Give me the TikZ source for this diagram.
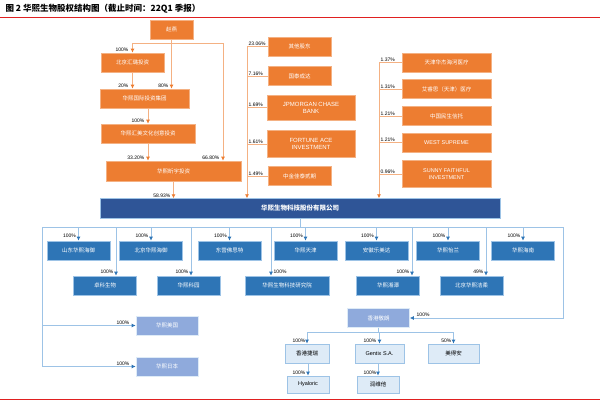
\documentclass[tikz,border=0pt]{standalone}
\usepackage{fontspec}
\setmainfont{Liberation Sans}
\newfontfamily\cjk{Noto Sans CJK SC}
\usetikzlibrary{calc,arrows.meta}
\definecolor{COrange}{HTML}{ED7D31}
\definecolor{COrangeLt}{HTML}{F4B183}
\definecolor{CNavy}{HTML}{2F5597}
\definecolor{CBlue}{HTML}{2E75B6}
\definecolor{CBlueLt}{HTML}{9DC3E6}
\definecolor{CPale}{HTML}{8FAADC}
\definecolor{CIce}{HTML}{DEEBF7}
\definecolor{CRed}{HTML}{E02020}

\tikzset{
  box/.style={inner sep=1pt, align=center, text=white,
    font=\cjk\fontsize{5.5}{6.5}\selectfont},
  obox/.style={box, fill=COrange, draw=COrangeLt, line width=0.6pt},
  bbox/.style={box, fill=CBlue, draw=CBlueLt, line width=0.6pt,
    minimum width=63, minimum height=19},
  lbox/.style={box, fill=CPale, draw=CIce, line width=0.6pt,
    minimum width=62, minimum height=19},
  ibox/.style={box, fill=CIce, draw=CBlueLt, line width=0.8pt, text=black},
  oline/.style={COrangeLt, line width=0.8pt, -{Latex[length=4pt,width=4pt,color=COrange]}},
  bline/.style={CBlueLt, line width=0.8pt, -{Latex[length=4pt,width=4pt,color=CBlue]}},
  pct/.style={font=\fontsize{5}{6}\selectfont, inner sep=0.5pt},
}

\begin{document}
\begin{tikzpicture}[x=1pt, y=-1pt]
  \useasboundingbox (0,0) rectangle (600,400);

  % ============================================
  % Title and rules
  % ============================================
  \node[anchor=west, font=\cjk\bfseries\fontsize{8.5}{10}\selectfont] (title) at (2,9)
    {图 2 华熙生物股权结构图（截止时间：22Q1 季报）};
  \draw[CRed, line width=0.8pt] (0,17) -- (600,17);
  \draw[CRed, line width=0.8pt] (0,399) -- (600,399);

  % ============================================
  % Upper chain (orange)
  % ============================================
  \node[obox, minimum width=43, minimum height=19] (zhao) at (171.5,29.5) {赵燕};
  \node[obox, minimum width=63, minimum height=19] (bjhl) at (132.5,62.5) {北京汇璐投资};
  \node[obox, minimum width=89, minimum height=19] (hlgj) at (144.5,98.5) {华熙国际投资集团};
  \node[obox, minimum width=94, minimum height=19] (hmwh) at (148,133.5) {华熙汇美文化创意投资};
  \node[obox, minimum width=135, minimum height=20] (xyt) at (173.5,171) {华熙昕宇投资};

  \node[fill=CNavy, draw=CBlueLt, minimum width=400, minimum height=20,
    text=white, font=\cjk\bfseries\fontsize{6.5}{7.5}\selectfont] (main) at (300,208.5)
    {华熙生物科技股份有限公司};

  \draw[oline] (zhao.south) -- (zhao.south |- hlgj.north);
  \draw[oline] (zhao.south) -- ++(0,4) -| (bjhl.north);
  \draw[oline] (zhao.south) -- ++(0,4) -| ($(xyt.north)+(49.5,0)$);
  \draw[oline] (bjhl.south) -- (bjhl.south |- hlgj.north);
  \draw[oline] (hmwh.north |- hlgj.south) -- (hmwh.north);
  \draw[oline] (hmwh.south) -- (hmwh.south |- xyt.north);
  \draw[oline] (xyt.south) -- (xyt.south |- main.north);

  \node[pct, anchor=south east] at (129,52) {100\%};
  \node[pct, anchor=south east] at (129,88) {20\%};
  \node[pct, anchor=south east] at (169,88) {80\%};
  \node[pct, anchor=south east] at (145,123) {100\%};
  \node[pct, anchor=south east] at (145,160) {33.20\%};
  \node[pct, anchor=south east] at (220,160) {66.80\%};
  \node[pct, anchor=south east] at (171,198) {58.93\%};

  % ============================================
  % Other holders, left column
  % ============================================
  \node[obox, minimum width=63, minimum height=19] (qtgd) at (299.5,46.5) {其他股东};
  \node[obox, minimum width=63, minimum height=19] (gtcd) at (299.5,76) {国泰成达};
  \node[obox, minimum width=88, minimum height=25, font=\fontsize{6}{7}\selectfont] (jpm) at (311,107.5) {JPMORGAN CHASE\\BANK};
  \node[obox, minimum width=88, minimum height=27, font=\fontsize{6}{7}\selectfont] (fai) at (311,144) {FORTUNE ACE\\INVESTMENT};
  \node[obox, minimum width=63, minimum height=19] (zjjt) at (299.5,176) {中金佳泰贰期};

  \coordinate (lt) at (247,46.5);
  \draw[oline] (lt) -- (lt |- main.north);
  \foreach \n/\p in {qtgd/23.06, gtcd/7.16, jpm/1.69, fai/1.61, zjjt/1.49} {
    \draw[COrangeLt, line width=0.8pt] (\n.west) -- (\n.west -| lt);
    \node[pct, anchor=south west] at ($(\n.west -| lt)+(1,0)$) {\p\%};
  }

  % ============================================
  % Other holders, right column
  % ============================================
  \node[obox, minimum width=89, minimum height=19] (tjhj) at (446.5,62.5) {天津华杰海河医疗};
  \node[obox, minimum width=89, minimum height=19] (arsi) at (446.5,89) {艾睿思（天津）医疗};
  \node[obox, minimum width=89, minimum height=19] (zgms) at (446.5,116) {中国民生信托};
  \node[obox, minimum width=89, minimum height=19, font=\fontsize{5.5}{6.5}\selectfont] (wsup) at (446.5,142.5) {WEST SUPREME};
  \node[obox, minimum width=89, minimum height=27, font=\fontsize{5.5}{7}\selectfont] (sfi) at (446.5,174) {SUNNY FAITHFUL\\INVESTMENT};

  \coordinate (rt) at (379,62.5);
  \draw[oline] (rt) -- (rt |- main.north);
  \foreach \n/\p in {tjhj/1.37, arsi/1.31, zgms/1.21, wsup/1.21, sfi/0.96} {
    \draw[COrangeLt, line width=0.8pt] (\n.west) -- (\n.west -| rt);
    \node[pct, anchor=south west] at ($(\n.west -| rt)+(1,0)$) {\p\%};
  }

  % ============================================
  % Subsidiaries (blue)
  % ============================================
  \node[bbox] (sdhy) at (78.5,250.5) {山东华熙海御};
  \node[bbox] (bjhy) at (151,250.5) {北京华熙海御};
  \node[bbox] (dyfs) at (229.5,250.5) {东营佛思特};
  \node[bbox] (hxtj) at (305.5,250.5) {华熙天津};
  \node[bbox] (ahlm) at (376.5,250.5) {安徽乐美达};
  \node[bbox] (hxyl) at (448,250.5) {华熙怡兰};
  \node[bbox] (hxhn) at (523,250.5) {华熙海南};

  \node[bbox] (zksw) at (105,285.5) {卓科生物};
  \node[bbox] (hxky) at (188.5,285.5) {华熙科园};
  \node[bbox, minimum width=84] (yjy) at (287,285.5) {华熙生物科技研究院};
  \node[bbox] (hxxt) at (388,285.5) {华熙湘潭};
  \node[bbox] (bjjr) at (471.5,285.5) {北京华熙洁柔};

  \node[lbox] (hxus) at (167,325.5) {华熙美国};
  \node[lbox] (hxjp) at (167,366.5) {华熙日本};
  \node[lbox] (hkjl) at (378.5,318) {香港敬朗};

  \node[ibox, minimum width=44, minimum height=19] (hkjr) at (307,353.5) {香港捷瑞};
  \node[ibox, minimum width=49, minimum height=19, font=\fontsize{5.5}{6.5}\selectfont] (gtx) at (379.5,353.5) {Gentix S.A.};
  \node[ibox, minimum width=51, minimum height=19] (mda) at (453.5,353.5) {美得安};
  \node[ibox, minimum width=42, minimum height=17, font=\fontsize{5.5}{6.5}\selectfont] (hyal) at (308,384.5) {Hyaloric};
  \node[ibox, minimum width=42, minimum height=17] (rwt) at (378,384.5) {润维他};

  \coordinate (bus) at (300,227);
  \coordinate (bl) at (42,227);
  \coordinate (br) at (563,227);
  \draw[CBlueLt, line width=0.8pt] (main.south -| bus) -- (bus);
  \draw[CBlueLt, line width=0.8pt] (bl) -- (br);

  \foreach \n in {sdhy, bjhy, dyfs, hxtj, ahlm, hxyl, hxhn} {
    \draw[bline] (\n.north |- bus) -- (\n.north);
    \node[pct, anchor=south east] at ($(\n.north)+(-2,-2)$) {100\%};
  }
  \foreach \n/\dx/\p in {zksw/11/100, hxky/2.5/100, yjy/-16/100, hxxt/24/100, bjjr/14.5/49} {
    \draw[bline] ($(\n.north |- bus)+(\dx,0)$) -- ($(\n.north)+(\dx,0)$);
  }
  \node[pct, anchor=south east] at (114,274) {100\%};
  \node[pct, anchor=south east] at (189,274) {100\%};
  \node[pct, anchor=south west] at (273,274) {100\%};
  \node[pct, anchor=south east] at (410,274) {100\%};
  \node[pct, anchor=south east] at (484,274) {49\%};

  \draw[bline] (bl) |- (hxus.west);
  \draw[bline] (bl) |- (hxjp.west);
  \draw[bline] (br) |- (hkjl.east);
  \node[pct, anchor=south east] at (130,325) {100\%};
  \node[pct, anchor=south east] at (130,366) {100\%};
  \node[pct, anchor=south west] at (416,317) {100\%};

  \foreach \n in {hkjr, gtx, mda} {
    \draw[bline] (hkjl.south) -- ++(0,5) -| (\n.north);
  }
  \draw[bline] (hkjr.south -| hyal.north) -- (hyal.north);
  \draw[bline] (gtx.south -| rwt.north) -- (rwt.north);
  \node[pct, anchor=south east] at (306,343) {100\%};
  \node[pct, anchor=south east] at (377,343) {100\%};
  \node[pct, anchor=south east] at (452,343) {50\%};
  \node[pct, anchor=south east] at (306,375) {100\%};
  \node[pct, anchor=south east] at (377,375) {100\%};
\end{tikzpicture}
\end{document}
